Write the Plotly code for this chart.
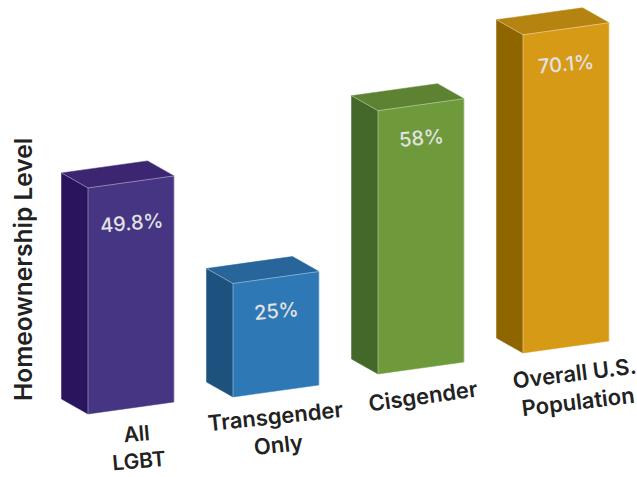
import plotly.graph_objects as go

# ---- data ----
categories = ["All<br>LGBT", "Transgender<br>Only", "Cisgender", "Overall U.S.<br>Population"]
values = [49.8, 25, 58, 70.1]
value_labels = ["49.8%", "25%", "58%", "70.1%"]
axis_title = "Homeownership Level"

# ---- styles ----
front_colors = ["#463583", "#2e78b5", "#6e9a3b", "#d79a17"]
side_colors = ["#2b145e", "#1c527d", "#43682a", "#8f6500"]
top_colors = ["#3c2571", "#27659b", "#5c8232", "#b58310"]

W, H = 637, 477
PX_PER_CAT = 145.0          # pixels per category step
PX_PER_VAL = 4.54           # pixels per value unit
X0_PX, Y0_PX = 88.0, 414.0  # where the first bar's front-left foot sits

# layout of the oblique projection (in axis units)
BAR_W = 86 / PX_PER_CAT
RISE = 12 / PX_PER_VAL      # front face climbs to the right
DEPTH_X = -26.5 / PX_PER_CAT
DEPTH_Y = 15 / PX_PER_VAL
FLOOR = [0, 17 / PX_PER_VAL, 40 / PX_PER_VAL, 61 / PX_PER_VAL]  # floor climbs by category

label_drop = [41, 33, 33, 35]            # px below the top edge centre
cat_label_pos = [(138, 447), (277, 430), (423, 396), (576, 387)]
cat_label_angle = [-5, -6, -8, -7]
cat_label_size = [21, 22, 22, 22]

def px_x(p):
    return (p - X0_PX) / PX_PER_CAT

def px_y(p):
    return (Y0_PX - p) / PX_PER_VAL

fig = go.Figure()

def poly(xs, ys, color):
    fig.add_trace(go.Scatter(
        x=xs + xs[:1], y=ys + ys[:1], mode="lines", fill="toself",
        fillcolor=color, line=dict(color=color, width=0.5),
        hoverinfo="skip", showlegend=False))

for i, v in enumerate(values):
    b = FLOOR[i]
    t = b + v
    x0, x1 = i, i + BAR_W
    # side face
    poly([x0 + DEPTH_X, x0, x0, x0 + DEPTH_X],
         [t + DEPTH_Y, t, b, b + DEPTH_Y], side_colors[i])
    # top face
    poly([x0 + DEPTH_X, x0, x1, x1 + DEPTH_X],
         [t + DEPTH_Y, t, t + RISE, t + RISE + DEPTH_Y], top_colors[i])
    # front face
    poly([x0, x1, x1, x0], [b, b + RISE, t + RISE, t], front_colors[i])
    # thin highlighted edges where faces meet
    fig.add_trace(go.Scatter(
        x=[x0 + DEPTH_X, x0, x1, x1, None, x0, x0],
        y=[t + DEPTH_Y, t, t + RISE, b + RISE, None, t, b],
        mode="lines", line=dict(color="rgba(255,255,255,0.45)", width=0.8),
        hoverinfo="skip", showlegend=False))
    # value label
    fig.add_annotation(
        x=x0 + BAR_W / 2, y=t + RISE / 2 - label_drop[i] / PX_PER_VAL,
        text=value_labels[i], showarrow=False, textangle=-5,
        xanchor="center", yanchor="middle",
        font=dict(family="Inter", size=20, color="#e2e2e2", weight=500))
    # category label
    cx, cy = cat_label_pos[i]
    fig.add_annotation(
        x=px_x(cx), y=px_y(cy), text=categories[i], showarrow=False,
        textangle=cat_label_angle[i], xanchor="center", yanchor="middle",
        align="center",
        font=dict(family="Inter", size=cat_label_size[i], color="#222222", weight=600))

fig.add_annotation(
    x=px_x(23), y=px_y(270), text=axis_title, showarrow=False, textangle=-90,
    xanchor="center", yanchor="middle",
    font=dict(family="Inter", size=24.5, color="#222222", weight=600))

fig.update_layout(
    width=W, height=H, margin=dict(l=0, r=0, t=0, b=0),
    paper_bgcolor="white", plot_bgcolor="white", showlegend=False,
    xaxis=dict(range=[px_x(0), px_x(W)], visible=False, fixedrange=True),
    yaxis=dict(range=[px_y(H), px_y(0)], visible=False, fixedrange=True),
)

fig.write_html("out.html", config={"displayModeBar": False},
               post_script="document.body.style.margin='0';")
